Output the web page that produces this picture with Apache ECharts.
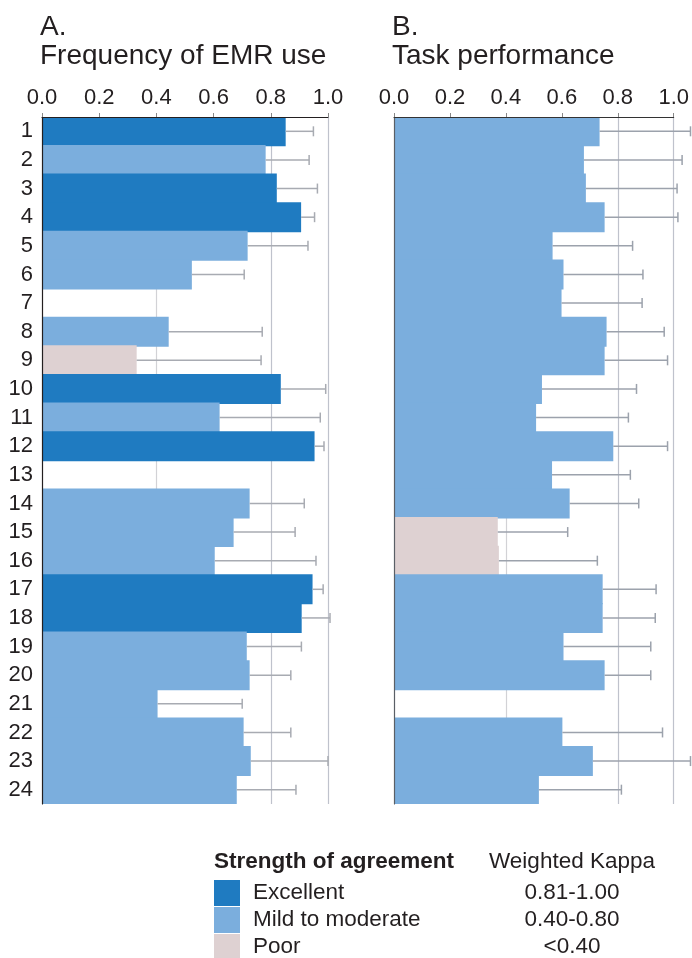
<!DOCTYPE html>
<html>
<head>
<meta charset="utf-8">
<script src="https://cdn.jsdelivr.net/npm/echarts@6/dist/echarts.min.js"></script>
<style>
  html, body { margin: 0; padding: 0; background: #fff; }
  #chart { width: 692px; height: 958px; }
</style>
</head>
<body>
<div id="chart"></div>
<script>
// item numbers, top to bottom
var categories = ['1','2','3','4','5','6','7','8','9','10','11','12',
                  '13','14','15','16','17','18','19','20','21','22','23','24'];

// A. Frequency of EMR use: weighted kappa and upper CI
var freqKappa = [0.852, 0.782, 0.821, 0.906, 0.719, 0.524, null, 0.443, 0.331, 0.835, 0.621, 0.953,
                 null, 0.726, 0.670, 0.604, 0.946, 0.908, 0.716, 0.726, 0.404, 0.705, 0.730, 0.681];
var freqUpper = [0.949, 0.934, 0.963, 0.953, 0.930, 0.707, null, 0.770, 0.766, 0.992, 0.973, 0.986,
                 null, 0.917, 0.885, 0.958, 0.983, 1.007, 0.907, 0.870, 0.700, 0.870, 1.000, 0.888];

// B. Task performance
var taskKappa = [0.735, 0.679, 0.686, 0.753, 0.567, 0.606, 0.599, 0.760, 0.753, 0.529, 0.508, 0.784,
                 0.565, 0.628, 0.371, 0.375, 0.746, 0.746, 0.606, 0.753, null, 0.602, 0.711, 0.518];
var taskUpper = [1.060, 1.030, 1.012, 1.015, 0.853, 0.890, 0.887, 0.966, 0.978, 0.867, 0.838, 0.978,
                 0.845, 0.875, 0.621, 0.727, 0.937, 0.934, 0.918, 0.918, null, 0.960, 1.060, 0.813];

// legend
var strengthNames = ['Excellent', 'Mild to moderate', 'Poor'];
var kappaRanges = ['0.81-1.00', '0.40-0.80', '<0.40'];
var strengthColors = ['#1f7bc1', '#7baedd', '#ded1d2'];

var FONT = "'Liberation Sans', Arial, Helvetica, sans-serif";
var TXT = '#231f20';

function colorFor(k) {
  if (k >= 0.81) return strengthColors[0];
  if (k >= 0.40) return strengthColors[1];
  return strengthColors[2];
}

function barData(vals) {
  return vals.map(function (v) {
    if (v == null) return '-';
    return { value: v, itemStyle: { color: colorFor(v) } };
  });
}

function errData(vals, upper) {
  var out = [];
  for (var i = 0; i < vals.length; i++) {
    if (vals[i] == null) continue;
    out.push([vals[i], upper[i], i]);
  }
  return out;
}

function errRenderer(stroke) {
  return function (params, api) {
    var p0 = api.coord([api.value(0), api.value(2)]);
    var p1 = api.coord([api.value(1), api.value(2)]);
    var st = { stroke: stroke, lineWidth: 1.5 };
    return {
      type: 'group',
      children: [
        { type: 'line', shape: { x1: p0[0], y1: p0[1], x2: p1[0], y2: p1[1] }, style: st },
        { type: 'line', shape: { x1: p1[0], y1: p1[1] - 5, x2: p1[0], y2: p1[1] + 5 }, style: st }
      ]
    };
  };
}

function mainX(grid, lineColor) {
  return {
    type: 'value', gridIndex: grid, position: 'top', min: 0, max: 1, interval: 0.2, z: 5,
    axisLine: { show: true, lineStyle: { color: lineColor, width: 1 } },
    axisTick: { show: true, length: 4, lineStyle: { color: '#888' } },
    axisLabel: { fontSize: 22, color: TXT, fontFamily: FONT, margin: 8,
                 formatter: function (v) { return v.toFixed(1); } },
    splitLine: { show: false }
  };
}

function gridX(grid) {
  return {
    type: 'value', gridIndex: grid, position: 'top', min: 0, max: 1, interval: 0.4,
    axisLine: { show: false }, axisTick: { show: false }, axisLabel: { show: false },
    splitLine: { show: true, lineStyle: { color: ['#ffffff', '#d2d2d6', '#bfc2cc', '#bfc2cc'], width: 1.2 } }
  };
}

function catY(grid, showLabels, lineColor) {
  return {
    type: 'category', gridIndex: grid, data: categories, inverse: true, z: 5,
    axisLine: { show: true, lineStyle: { color: lineColor, width: 1.2 } },
    axisTick: { show: false },
    axisLabel: { show: showLabels, fontSize: 22, color: TXT, fontFamily: FONT, margin: 9 },
    splitLine: { show: false }
  };
}

var graphics = [];
graphics.push({ type: 'text', left: 214, top: 850,
  style: { text: 'Strength of agreement', font: 'bold 22.5px ' + FONT, fill: TXT } });
graphics.push({ type: 'text', x: 572, y: 862,
  style: { text: 'Weighted Kappa', font: '22.5px ' + FONT, fill: TXT, textAlign: 'center', textVerticalAlign: 'middle' } });
strengthNames.forEach(function (name, i) {
  var y0 = 880 + i * 27;
  graphics.push({ type: 'rect', shape: { x: 214, y: y0, width: 26, height: 26 },
    style: { fill: strengthColors[i] } });
  graphics.push({ type: 'text', x: 253, y: y0 + 13,
    style: { text: name, font: '22.5px ' + FONT, fill: TXT, textVerticalAlign: 'middle' } });
  graphics.push({ type: 'text', x: 572, y: y0 + 13,
    style: { text: kappaRanges[i], font: '22.5px ' + FONT, fill: TXT, textAlign: 'center', textVerticalAlign: 'middle' } });
});

var chart = echarts.init(document.getElementById('chart'), null, { renderer: 'canvas' });
chart.setOption({
  animation: false,
  backgroundColor: '#ffffff',
  title: [
    { text: 'A.\nFrequency of EMR use', left: 35, top: 8,
      textStyle: { fontSize: 28, fontWeight: 'normal', color: TXT, fontFamily: FONT, lineHeight: 29 } },
    { text: 'B.\nTask performance', left: 387, top: 8,
      textStyle: { fontSize: 28, fontWeight: 'normal', color: TXT, fontFamily: FONT, lineHeight: 29 } }
  ],
  grid: [
    { left: 42, top: 117, width: 286, height: 687 },
    { left: 394, top: 117, width: 286, height: 687 }
  ],
  xAxis: [mainX(0, '#231f20'), gridX(0), mainX(1, '#333333'), gridX(1)],
  yAxis: [catY(0, true, '#231f20'), catY(1, false, '#5a5f66')],
  series: [
    // bars a little wider than the band so neighbours overlap instead of leaving a seam
    { type: 'bar', xAxisIndex: 0, yAxisIndex: 0, barWidth: 30, clip: true,
      data: barData(freqKappa), z: 2 },
    { type: 'custom', xAxisIndex: 0, yAxisIndex: 0, clip: false, z: 3,
      renderItem: errRenderer('#a8abb2'), encode: { x: [0, 1], y: 2 },
      data: errData(freqKappa, freqUpper) },
    { type: 'bar', xAxisIndex: 2, yAxisIndex: 1, barWidth: 30, clip: true,
      data: barData(taskKappa), z: 2 },
    { type: 'custom', xAxisIndex: 2, yAxisIndex: 1, clip: false, z: 3,
      renderItem: errRenderer('#9ca2ac'), encode: { x: [0, 1], y: 2 },
      data: errData(taskKappa, taskUpper) }
  ],
  graphic: graphics
});
</script>
</body>
</html>
